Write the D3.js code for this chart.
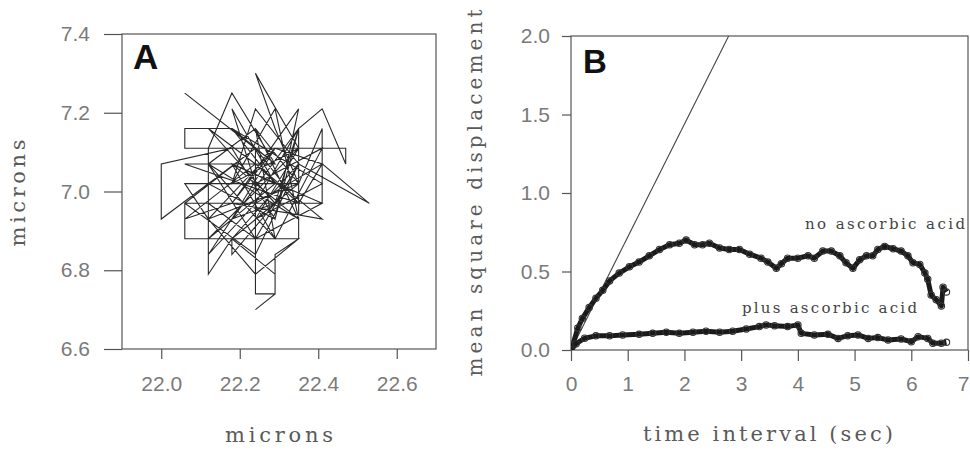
<!DOCTYPE html>
<html><head><meta charset="utf-8">
<script src="https://cdn.jsdelivr.net/npm/d3@7"></script>
<style>
html,body{margin:0;padding:0;background:#fff;}
svg{display:block;}
</style></head>
<body>
<script>
// ---- Panel A: particle trajectory (microns) ----
const trackX = [22.06,22.29,22.18,22.12,22.12,22.18,22.18,22.29,22.35,22.41,22.47,22.47,22.06,22.06,22.18,22.29,
  22.18,22.35,22.24,22.12,22.29,22.41,22.24,22.18,22.29,22.12,22.35,22.24,22.41,22.18,22.29,22.06,22.35,22.24,22.12,22.29,
  22.35,22.18,22.41,22.24,22.12,22.29,22.18,22.35,22.24,22.06,
  22.24,22.24,22.29,22.29,22.35,22.06,22.06,22.41,22.41,22.35,22.12,22.00,22.00,22.18,22.29,22.35,22.35,22.24,22.12,22.06,
  22.18,22.24,22.35,22.29,22.18,22.12,22.24,22.41,22.29,22.18,22.06,22.24,22.35,22.41,22.53,22.35,22.24,22.12,
  22.24,22.35,22.18,22.29,22.12,22.35,22.24,22.29,22.18,22.41,22.24,22.12,22.35,22.29,22.18,22.35,
  22.24,22.29,22.35,22.18,22.29,22.29,22.24];
const trackY = [7.25,7.07,7.25,7.11,6.79,6.88,6.84,6.97,7.16,7.21,7.07,7.11,7.11,7.16,7.16,7.02,
  7.07,6.93,7.16,7.07,6.88,7.11,7.02,7.21,7.02,6.88,7.11,6.93,7.02,7.16,7.07,7.07,6.97,7.11,7.02,6.93,
  7.21,6.97,6.93,7.07,7.16,6.97,6.88,7.07,6.84,6.97,
  7.11,6.74,6.74,6.84,6.88,6.88,6.97,6.97,7.16,7.02,7.02,6.93,7.07,7.11,6.93,7.16,6.88,6.79,6.93,7.02,
  7.02,7.21,7.07,6.97,6.93,6.84,6.97,7.07,7.11,6.97,6.93,7.07,6.97,7.07,6.97,7.07,6.88,6.97,
  6.97,7.16,6.93,7.11,6.93,7.02,7.16,6.88,7.07,6.97,6.88,7.07,6.93,7.21,7.02,7.11,
  7.30,7.16,7.02,6.88,6.79,6.74,6.70];
const xTicksA = [22.0,22.2,22.4,22.6];
const yTicksA = [6.6,6.8,7.0,7.2,7.4];

// ---- Panel B: mean square displacement vs time interval ----
const timeNo = [0,0.03,0.12,0.2,0.32,0.44,0.56,0.68,0.85,1.03,1.2,1.38,1.56,1.74,1.91,2.03,2.18,2.32,2.44,2.62,
  2.79,2.97,3.15,3.35,3.47,3.62,3.71,3.82,4.0,4.18,4.29,4.44,4.59,4.74,4.85,4.97,5.09,5.21,5.32,5.41,
  5.53,5.68,5.82,5.94,6.03,6.15,6.24,6.29,6.35,6.44,6.53,6.56,6.62];
const msdNo = [0,0.03,0.14,0.2,0.27,0.33,0.38,0.44,0.49,0.53,0.56,0.6,0.64,0.67,0.68,0.7,0.67,0.67,0.68,0.65,
  0.64,0.64,0.61,0.585,0.56,0.52,0.55,0.585,0.585,0.6,0.585,0.63,0.63,0.6,0.555,0.52,0.575,0.6,0.6,0.64,
  0.66,0.645,0.63,0.6,0.555,0.545,0.49,0.45,0.35,0.32,0.28,0.4,0.37];
const timePlus = [0,0.09,0.24,0.44,0.68,0.91,1.2,1.44,1.68,1.91,2.15,2.38,2.62,2.85,3.09,3.32,3.44,3.59,3.82,4.0,
  4.06,4.29,4.53,4.71,4.88,5.06,5.24,5.41,5.59,5.82,6.0,6.12,6.29,6.38,6.53,6.62];
const msdPlus = [0,0.04,0.075,0.09,0.09,0.096,0.1,0.106,0.113,0.106,0.113,0.12,0.113,0.12,0.134,0.149,0.16,0.155,0.149,0.16,
  0.106,0.096,0.1,0.074,0.091,0.096,0.074,0.079,0.064,0.07,0.053,0.085,0.074,0.043,0.043,0.049];
const refLineT = [0,2.78];
const refLineV = [0,2.0];
const xTicksB = [0,1,2,3,4,5,6,7];
const yTicksB = [0,0.5,1.0,1.5,2.0];
const seriesLabels = ["no ascorbic acid","plus ascorbic acid"];

const W = 970, H = 451;
const svg = d3.select("body").append("svg").attr("width",W).attr("height",H);

const tickFont = "'Liberation Sans', Arial, sans-serif";
const serifFont = "'DejaVu Serif', 'Liberation Serif', serif";
const axisColor = "#555";
const tickTextColor = "#7a7a7a";
const titleColor = "#5a5a5a";

function styleAxis(g){
  g.select(".domain").remove();
  g.selectAll(".tick line").attr("stroke",axisColor).attr("stroke-width",1.2);
  g.selectAll(".tick text").attr("fill",tickTextColor).style("font-family",tickFont).style("font-size","21px");
}

// ---------- Panel A ----------
const xA = d3.scaleLinear().domain([21.9,22.7]).range([122,436]);
const yA = d3.scaleLinear().domain([6.6,7.4]).range([349,34]);

svg.append("rect").attr("x",xA(21.9)).attr("y",yA(7.4))
  .attr("width",xA(22.7)-xA(21.9)).attr("height",yA(6.6)-yA(7.4))
  .attr("fill","none").attr("stroke",axisColor).attr("stroke-width",1.2);

svg.append("g").attr("transform",`translate(0,${yA(6.6)})`)
  .call(d3.axisBottom(xA).tickValues(xTicksA).tickSize(10).tickPadding(17).tickFormat(d3.format(".1f")))
  .call(styleAxis);
svg.append("g").attr("transform",`translate(${xA(21.9)},0)`)
  .call(d3.axisLeft(yA).tickValues(yTicksA).tickSize(18).tickPadding(14).tickFormat(d3.format(".1f")))
  .call(styleAxis);

const track = trackX.map((x,i)=>[x,trackY[i]]);
svg.append("path").datum(track)
  .attr("d", d3.line().x(d=>xA(d[0])).y(d=>yA(d[1])))
  .attr("fill","none").attr("stroke","#2a2a2a").attr("stroke-width",1.1).attr("stroke-linejoin","miter");

svg.append("text").attr("x",133).attr("y",69).text("A")
  .style("font-family",tickFont).style("font-weight","bold").style("font-size","35px").attr("fill","#111");

svg.append("text").attr("transform","translate(25,193) rotate(-90)")
  .attr("text-anchor","middle").attr("textLength",107).attr("lengthAdjust","spacing")
  .style("font-family",serifFont).style("font-size","21px").attr("fill",titleColor).text("microns");
svg.append("text").attr("x",279).attr("y",442)
  .attr("text-anchor","middle").attr("textLength",108).attr("lengthAdjust","spacing")
  .style("font-family",serifFont).style("font-size","21px").attr("fill",titleColor).text("microns");

// ---------- Panel B ----------
const xB = d3.scaleLinear().domain([0,7]).range([571,968]);
const yB = d3.scaleLinear().domain([0,2]).range([350,36]);

svg.append("rect").attr("x",xB(0)).attr("y",yB(2))
  .attr("width",xB(7)-xB(0)).attr("height",yB(0)-yB(2))
  .attr("fill","none").attr("stroke",axisColor).attr("stroke-width",1.2);

const axB = svg.append("g").attr("transform",`translate(0,${yB(0)})`)
  .call(d3.axisBottom(xB).tickValues(xTicksB).tickSize(11).tickPadding(15).tickFormat(d3.format("d")))
  .call(styleAxis);
// last label sits at the window edge; keep it just inside
axB.selectAll(".tick text").filter(d=>d===7).attr("text-anchor","end").attr("x",1);
svg.append("g").attr("transform",`translate(${xB(0)},0)`)
  .call(d3.axisLeft(yB).tickValues(yTicksB).tickSize(9).tickPadding(12).tickFormat(d3.format(".1f")))
  .call(styleAxis);

svg.append("clipPath").attr("id","clipB").append("rect")
  .attr("x",xB(0)).attr("y",yB(2)).attr("width",xB(7)-xB(0)).attr("height",yB(0)-yB(2));

const refLine = refLineT.map((t,i)=>[t,refLineV[i]]);
svg.append("path").datum(refLine).attr("clip-path","url(#clipB)")
  .attr("d", d3.line().x(d=>xB(d[0])).y(d=>yB(d[1])))
  .attr("fill","none").attr("stroke","#444").attr("stroke-width",1.1);

function drawSeries(ts, vs){
  const pts = ts.map((t,i)=>[t,vs[i]]);
  const g = svg.append("g").attr("clip-path","url(#clipB)");
  g.append("path").datum(pts)
    .attr("d", d3.line().x(d=>xB(d[0])).y(d=>yB(d[1])))
    .attr("fill","none").attr("stroke","#1a1a1a").attr("stroke-width",5).attr("stroke-linejoin","round");
  g.selectAll("circle").data(pts).enter().append("circle")
    .attr("cx",d=>xB(d[0])).attr("cy",d=>yB(d[1])).attr("r",3.2)
    .attr("fill","none").attr("stroke","#333").attr("stroke-width",1.1);
}
drawSeries(timeNo, msdNo);
drawSeries(timePlus, msdPlus);

svg.append("text").attr("x",805).attr("y",229).attr("textLength",160).attr("lengthAdjust","spacing")
  .style("font-family",serifFont).style("font-size","15px").attr("fill","#444").text(seriesLabels[0]);
svg.append("text").attr("x",742).attr("y",313).attr("textLength",175).attr("lengthAdjust","spacing")
  .style("font-family",serifFont).style("font-size","15px").attr("fill","#444").text(seriesLabels[1]);

svg.append("text").attr("x",583).attr("y",73).text("B")
  .style("font-family",tickFont).style("font-weight","bold").style("font-size","33px").attr("fill","#111");

svg.append("text").attr("transform","translate(482,193) rotate(-90)")
  .attr("text-anchor","middle").attr("textLength",367).attr("lengthAdjust","spacing")
  .style("font-family",serifFont).style("font-size","20px").attr("fill",titleColor).text("mean square displacement");
svg.append("text").attr("x",768).attr("y",441)
  .attr("text-anchor","middle").attr("textLength",250).attr("lengthAdjust","spacing")
  .style("font-family",serifFont).style("font-size","21px").attr("fill",titleColor).text("time interval (sec)");
</script>
</body></html>
